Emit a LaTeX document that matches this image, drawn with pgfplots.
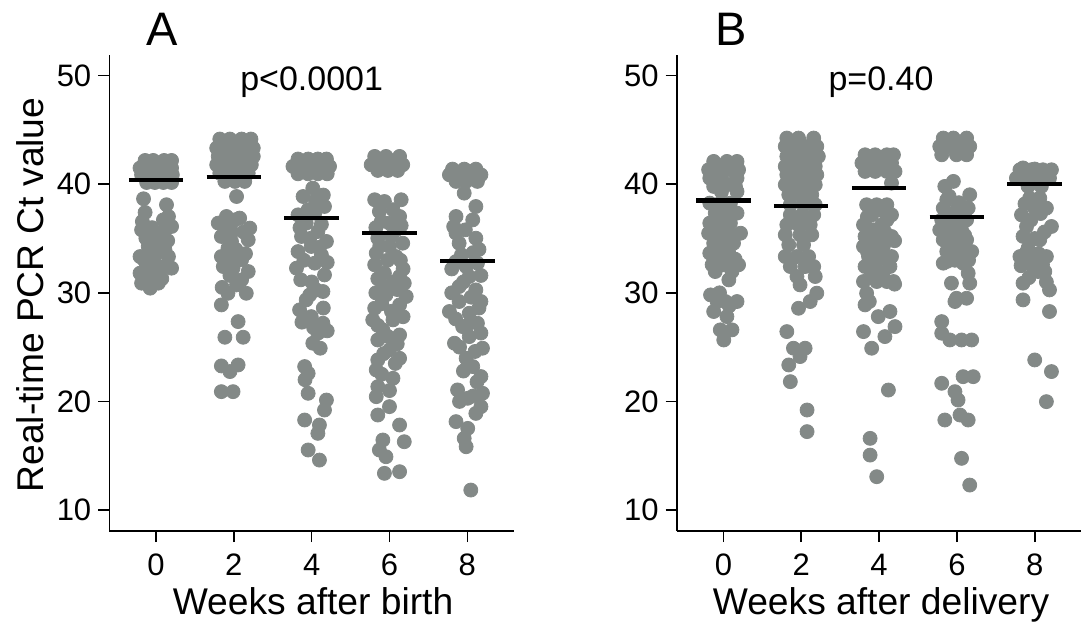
\documentclass[border=0pt]{standalone}
\usepackage{fontspec}
\setmainfont{Liberation Sans}
\usepackage{pgfplots}
\pgfplotsset{compat=1.18}
\definecolor{dotgray}{RGB}{131,137,135}
\pgfplotsset{
 panel/.style={
  scale only axis, width=202.35pt, height=238pt,
  xmin=-1.2, xmax=9.2, ymin=8.07, ymax=51.9,
  axis lines=left, axis line style={-, line width=0.8pt},
  xtick={0,2,4,6,8}, ytick={10,20,30,40,50},
  tick align=outside, major tick length=5.5pt,
  tick style={line width=0.8pt, black},
  ticklabel style={font=\fontsize{15.5}{18}\selectfont},
  xticklabel style={yshift=-2.5pt},
  /pgf/number format/assume math mode=true,
  clip=false, clip marker paths=true, anchor=south west,
 },
 dots/.style={only marks, mark=*, mark size=3.5pt, color=dotgray, mark options={draw=none, fill=dotgray}},
 med/.style={black, line width=2.1pt, no marks},
}
\begin{document}
\begin{tikzpicture}
\useasboundingbox (0,0) rectangle (543pt,310.5pt);
% ---------------- Panel A ----------------
\begin{axis}[panel, at={(54.65pt,45pt)}]
\addplot[dots] coordinates {
(-0.28,42.19) (-0.07,42.19) (0.21,42.19) (0.40,42.19)
(-0.41,41.49) (-0.20,41.49) (0.02,41.49) (0.23,41.49) (0.40,41.49)
(-0.37,40.87) (-0.15,40.87) (0.06,40.87) (0.27,40.87) (0.42,40.87)
(-0.24,40.16) (-0.03,40.16) (0.19,40.16) (0.40,40.16)
(-0.32,38.66) (-0.28,37.40) (-0.35,36.57) (-0.37,35.80) (-0.26,35.03) (-0.20,34.27)
(0.27,38.11) (0.32,37.03) (0.19,36.72) (0.40,36.11) (0.23,35.80) (0.10,35.19) (0.02,34.57)
(-0.41,33.34) (-0.20,33.50) (0.02,33.65) (0.23,33.96) (0.32,33.34) (0.40,32.27) (0.19,32.42)
(-0.03,32.73) (-0.24,32.58) (-0.41,31.81) (-0.20,31.50) (0.02,31.81) (-0.37,30.89) (-0.15,30.43) (0.06,30.89)
(-0.10,36.00) (0.30,34.80) (-0.30,33.00) (0.15,31.30) (-0.05,35.20)
};
\addplot[dots] coordinates {
(1.64,44.16) (1.90,44.16) (2.20,44.16) (2.44,44.16)
(1.56,43.33) (1.77,43.33) (2.03,43.33) (2.28,43.33) (2.50,43.33)
(1.60,42.56) (1.81,42.56) (2.07,42.56) (2.32,42.56) (2.50,42.56)
(1.56,41.79) (1.77,41.79) (1.98,41.79) (2.24,41.79) (2.45,41.79)
(1.64,41.02) (1.85,41.02) (2.11,41.02) (2.37,41.02)
(1.77,40.26) (2.03,40.26) (2.28,40.26)
(1.70,43.80) (2.10,43.90) (2.35,43.70) (1.90,42.00) (2.15,41.50)
(2.07,38.87)
(1.81,37.03) (1.60,36.42) (2.03,36.72) (2.15,36.88) (2.41,35.96) (1.68,35.19) (2.37,34.88) (1.94,34.73)
(1.85,34.11) (1.68,33.34) (2.07,33.34) (2.20,33.04) (1.73,32.42) (1.98,32.27) (2.37,31.96) (2.07,30.73)
(1.85,29.96) (2.32,29.96) (1.68,28.89) (2.11,27.35) (1.77,25.91) (2.24,25.91) (1.68,23.27) (2.11,23.36)
(1.90,22.75) (1.68,20.90) (1.98,20.90)
(1.75,36.30) (2.25,35.60) (1.95,35.60) (2.05,34.00) (1.80,33.00) (2.30,33.60) (1.90,31.60) (2.20,31.20) (1.70,30.50)
};
\addplot[dots] coordinates {
(3.65,42.32) (3.91,42.32) (4.16,42.32) (4.38,42.32)
(3.52,41.64) (3.74,41.64) (3.99,41.64) (4.25,41.64) (4.46,41.64)
(3.65,40.96) (3.91,40.96) (4.16,40.96) (4.40,40.96)
(4.03,39.64) (3.78,38.87) (4.33,37.95) (3.91,37.65) (3.65,37.18) (4.08,37.34) (3.86,36.42) (4.16,35.65)
(3.74,35.19) (4.38,34.73) (3.99,34.27) (3.65,33.80) (4.25,33.50) (3.61,32.27) (4.08,32.73) (4.33,31.65)
(4.12,30.27) (4.29,30.12) (3.86,29.35) (3.69,28.43) (3.99,27.81) (4.29,27.20) (4.16,26.28) (4.03,25.36)
(3.82,23.21) (3.91,22.59) (3.91,20.75) (4.38,20.13) (4.33,19.21) (3.82,18.29) (4.20,17.83) (4.16,17.06)
(3.91,15.53) (4.20,14.60)
(3.70,36.00) (4.25,36.30) (3.95,35.00) (4.20,34.20) (3.80,33.00) (4.40,32.80) (3.72,31.20) (4.00,31.00)
(3.95,29.80) (4.30,28.60) (3.75,27.30) (4.05,26.80) (4.40,26.50) (4.22,24.90) (3.83,22.00) (4.10,38.50) (4.30,39.00)
};
\addplot[dots] coordinates {
(5.62,42.56) (5.91,42.56) (6.26,42.56)
(5.53,41.79) (5.79,41.79) (6.04,41.79) (6.34,41.79)
(5.70,41.27) (5.96,41.27) (6.21,41.27) (5.65,42.10) (6.15,42.10) (5.85,42.00)
(5.62,38.57) (5.87,38.41) (6.30,38.57) (5.74,37.49) (6.09,37.65) (6.26,37.03) (5.79,36.57) (6.00,36.42)
(6.17,35.80) (5.70,35.03) (6.34,34.57) (6.00,34.27) (5.66,33.65) (6.17,33.34) (5.62,32.58) (5.87,31.81)
(6.26,31.50) (6.38,30.89) (5.83,30.58) (6.43,29.66) (5.91,29.81) (5.62,28.58) (6.26,28.89) (5.57,27.51)
(6.09,27.51) (5.83,26.59) (6.26,26.12) (5.70,25.66) (6.00,24.74) (6.26,23.97) (5.70,23.82) (5.66,22.90)
(6.09,22.13) (5.70,21.36) (5.66,20.44) (6.00,19.52) (5.70,18.75) (6.26,17.83) (5.83,16.45) (6.38,16.29)
(5.74,15.53) (5.91,14.91) (5.87,13.38) (6.26,13.53)
(5.65,36.00) (6.05,35.20) (6.30,36.20) (5.75,34.30) (6.28,33.00) (5.95,33.00) (5.70,31.30) (6.10,31.00)
(6.35,32.20) (5.65,30.00) (6.20,30.30) (5.80,29.00) (6.05,28.30) (5.70,27.00) (6.35,27.80) (5.95,26.00)
(6.20,25.30) (5.85,24.40) (6.15,23.50) (5.80,22.50) (6.00,21.00)
};
\addplot[dots] coordinates {
(7.62,41.39) (7.92,41.39) (8.22,41.39)
(7.54,40.87) (7.79,40.87) (8.05,40.87) (8.35,40.87)
(7.71,40.26) (7.97,40.26) (8.26,40.26) (7.70,40.60) (8.05,41.20)
(7.92,39.18) (8.22,37.95) (8.14,36.72) (7.71,37.03) (7.71,35.50) (7.79,34.57) (8.22,35.03) (7.71,32.88)
(7.97,32.42) (8.26,32.73) (8.05,31.50) (7.79,30.58) (8.22,30.27) (7.54,28.28) (7.79,29.20) (8.35,29.20)
(8.05,28.12) (8.26,27.20) (7.88,26.89) (8.05,25.97) (7.67,25.36) (8.39,24.90) (7.97,23.97) (8.14,23.21)
(8.35,22.29) (7.75,21.06) (8.39,20.75) (8.01,20.29) (8.35,19.52) (8.22,18.90) (7.71,18.14) (8.01,17.52)
(7.92,16.60) (7.97,15.83) (8.09,11.84)
(7.65,36.10) (7.95,35.80) (8.30,34.00) (7.85,33.50) (8.15,33.70) (7.60,32.20) (8.35,31.60) (7.90,31.00)
(7.60,30.00) (8.10,29.60) (8.30,28.60) (7.70,27.60) (8.00,27.00) (8.35,26.30) (7.80,25.00) (8.20,24.60)
(7.90,22.80) (8.25,21.80) (7.80,20.00) (8.15,20.50)
};
\addplot[med] coordinates {(-0.7,40.4) (0.7,40.4)};
\addplot[med] coordinates {(1.3,40.7) (2.7,40.7)};
\addplot[med] coordinates {(3.3,36.9) (4.7,36.9)};
\addplot[med] coordinates {(5.3,35.5) (6.7,35.5)};
\addplot[med] coordinates {(7.3,32.9) (8.7,32.9)};
\end{axis}
% ---------------- Panel B ----------------
\begin{axis}[panel, at={(338.35pt,45pt)}]
\addplot[dots] coordinates {
(-0.25,42.10) (0.09,42.10) (0.35,42.10)
(-0.38,41.33) (-0.12,41.33) (0.14,41.33) (0.39,41.33)
(-0.35,40.56) (-0.08,40.56) (0.35,40.56)
(-0.25,39.80) (-0.03,39.80) (0.31,39.80) (0.35,39.33)
(-0.35,38.26) (-0.08,38.26) (0.18,38.26)
(-0.21,37.34) (0.05,37.34) (0.35,37.34)
(-0.35,36.42) (-0.08,36.42) (0.18,36.42)
(-0.38,35.49) (-0.12,35.49) (0.14,35.49) (0.44,35.49)
(-0.25,34.57) (0.01,34.57) (0.26,34.57)
(-0.35,33.65) (-0.08,33.65) (0.14,33.65)
(-0.29,32.58) (0.01,32.58) (0.39,32.58)
(-0.21,31.96) (0.22,31.96) (0.14,31.19)
(-0.33,29.81) (-0.16,29.20) (0.05,29.20) (0.35,29.20)
(-0.25,28.28) (0.09,27.81) (-0.08,26.59) (0.22,26.59) (0.01,25.66)
(0.10,36.90) (-0.15,36.90) (0.25,35.00) (-0.20,33.10) (0.30,33.10) (-0.10,30.00) (0.15,28.80) (-0.05,39.30) (0.15,40.00)
};
\addplot[dots] coordinates {
(1.63,44.25) (1.93,44.25) (2.32,44.25)
(1.59,43.48) (1.85,43.48) (2.10,43.48) (2.40,43.48)
(1.63,42.56) (1.89,42.56) (2.19,42.56) (2.44,42.56)
(1.59,41.64) (1.85,41.64) (2.10,41.64) (2.36,41.64)
(1.63,40.87) (1.89,40.87) (2.15,40.87) (2.40,40.87)
(1.59,39.95) (1.85,39.95) (2.10,39.95) (2.36,39.95)
(1.68,39.03) (1.97,39.03) (2.27,39.03)
(1.72,38.11) (2.06,38.11) (2.36,38.11)
(1.72,37.18) (2.02,37.18) (2.32,37.18)
(1.63,36.26) (1.93,36.26) (2.23,36.26)
(1.59,35.34) (1.97,35.34) (2.27,35.34)
(1.68,34.42) (2.06,34.42)
(1.59,33.34) (1.89,33.34) (2.19,33.34)
(1.72,32.42) (2.10,32.42) (2.32,32.42)
(1.89,31.50) (2.36,31.50)
(1.97,30.73) (2.40,29.97) (2.23,29.20) (1.93,28.58) (1.63,26.43) (1.80,24.90) (2.10,24.90) (1.97,24.13)
(1.68,23.36) (1.72,21.82) (2.15,19.21) (2.15,17.22)
};
\addplot[dots] coordinates {
(3.64,42.71) (3.90,42.71) (4.20,42.71) (4.37,42.71)
(3.56,41.95) (3.81,41.95) (4.07,41.95) (4.32,41.95)
(3.64,41.18) (3.90,41.18) (4.20,41.18) (4.41,41.18)
(4.32,40.10)
(3.68,38.11) (3.94,38.11) (4.20,38.11)
(3.81,37.18) (4.32,37.18) (3.60,36.26) (4.07,36.26)
(3.64,35.19) (3.90,35.19) (4.32,35.19)
(3.60,34.27) (3.81,34.27) (4.11,34.27)
(3.73,33.34) (3.98,33.34) (4.32,33.34)
(3.64,32.42) (3.90,32.42) (4.28,32.42)
(3.60,31.04) (3.94,31.04) (4.20,31.04) (4.37,31.04)
(3.68,29.96) (3.64,28.89) (4.28,28.28) (3.98,27.81) (4.41,26.89) (3.60,26.43) (4.15,25.97) (3.81,24.90)
(4.24,21.05) (3.77,16.60) (3.77,15.06) (3.94,13.07)
(4.05,37.60) (3.70,37.00) (4.20,36.70) (3.85,35.80) (4.15,35.60) (4.40,34.80) (4.00,34.60) (3.70,33.80)
(4.20,33.00) (4.10,31.80) (3.80,31.50) (4.40,30.80) (3.75,29.20)
};
\addplot[dots] coordinates {
(5.65,44.25) (5.91,44.25) (6.25,44.25)
(5.56,43.48) (5.82,43.48) (6.12,43.48) (6.33,43.48)
(5.61,42.71) (5.99,42.71) (6.25,42.71)
(5.91,40.26) (5.69,39.80) (6.33,39.03) (5.74,38.57)
(5.65,37.80) (6.03,37.80) (6.29,37.80)
(5.61,36.72) (5.91,36.72) (6.25,36.72)
(5.56,35.80) (5.82,35.80) (6.12,35.80)
(5.65,34.88) (5.99,34.88) (6.25,34.88)
(5.74,33.80) (6.08,33.80) (6.38,33.80)
(5.65,32.73) (6.16,32.73)
(6.29,31.81) (5.86,30.89) (6.33,30.89) (5.99,29.50) (6.25,29.50) (5.95,29.20)
(5.61,27.35) (5.61,26.28) (5.82,25.66) (6.12,25.66) (6.38,25.66)
(6.16,22.28) (6.42,22.28) (5.61,21.67) (5.95,20.90) (6.03,20.13) (6.08,18.75) (5.69,18.29) (6.29,18.29)
(6.12,14.76) (6.33,12.30)
(5.80,38.90) (6.05,38.30) (5.85,37.30) (6.15,37.20) (5.70,36.20) (6.05,36.30) (5.90,35.30) (6.20,35.30)
(5.80,34.30) (6.10,34.20) (5.95,33.00) (6.30,33.00) (5.75,32.90)
};
\addplot[dots] coordinates {
(7.62,41.33) (7.91,41.33) (8.21,41.33) (8.43,41.33)
(7.53,40.56) (7.79,40.56) (8.09,40.56) (8.38,40.56)
(7.83,39.80) (8.17,39.80) (7.87,38.72) (8.13,38.72)
(8.00,37.80) (8.30,37.80) (7.66,37.18)
(7.79,36.11) (8.43,36.11)
(8.13,34.88) (7.83,34.11) (7.62,33.34) (8.30,33.34)
(8.09,31.96) (8.26,31.96) (7.96,32.42)
(7.70,30.89) (8.38,30.27) (7.70,29.35) (8.38,28.28)
(8.00,23.82) (8.43,22.75) (8.30,19.98)
(7.75,38.20) (8.15,37.30) (7.90,36.70) (8.25,35.60) (7.70,35.20) (8.00,35.00) (7.80,33.80) (8.10,33.60)
(7.95,33.00) (7.65,32.50) (8.20,32.60) (7.85,31.40) (8.30,31.00) (8.00,41.40) (7.70,41.50)
};
\addplot[med] coordinates {(-0.7,38.5) (0.7,38.5)};
\addplot[med] coordinates {(1.3,38.0) (2.7,38.0)};
\addplot[med] coordinates {(3.3,39.65) (4.7,39.65)};
\addplot[med] coordinates {(5.3,37.0) (6.7,37.0)};
\addplot[med] coordinates {(7.3,40.0) (8.7,40.0)};
\end{axis}
% ---------------- Texts ----------------
\node[anchor=base, font=\fontsize{23.5}{27}\selectfont, inner sep=0pt] at (81pt,287.5pt) {A};
\node[anchor=base, font=\fontsize{23.5}{27}\selectfont, inner sep=0pt] at (365.75pt,287.5pt) {B};
\node[anchor=base, font=\fontsize{17}{20}\selectfont, inner sep=0pt] at (155.85pt,265.15pt) {p<0.0001};
\node[anchor=base, font=\fontsize{17}{20}\selectfont, inner sep=0pt] at (440.5pt,265.15pt) {p=0.40};
\node[anchor=base, font=\fontsize{18.6}{22}\selectfont, inner sep=0pt] at (156.5pt,3.5pt) {Weeks after birth};
\node[anchor=base, font=\fontsize{18.6}{22}\selectfont, inner sep=0pt] at (440.5pt,3.5pt) {Weeks after delivery};
\node[anchor=base, rotate=90, font=\fontsize{18.6}{22}\selectfont, inner sep=0pt] at (21.5pt,163pt) {Real-time PCR Ct value};
\end{tikzpicture}
\end{document}
